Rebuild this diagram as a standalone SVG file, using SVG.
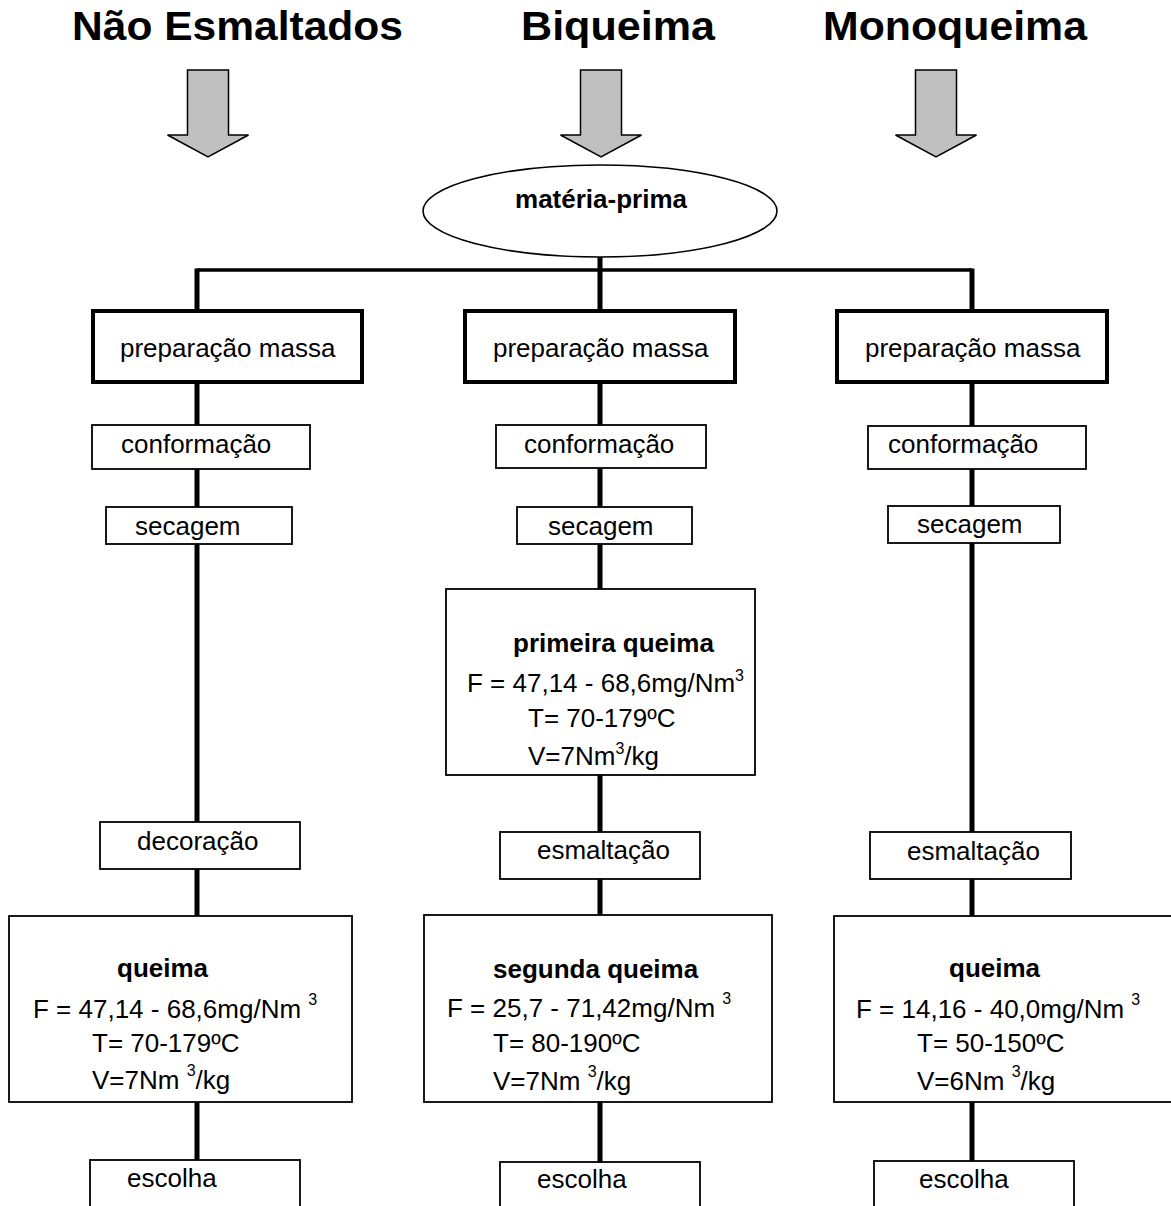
<svg xmlns="http://www.w3.org/2000/svg" width="1171" height="1206" viewBox="0 0 1171 1206">
<style>
.t{font-family:"Liberation Sans",Arial,sans-serif;font-size:26px;fill:#000}
.b{font-weight:bold}
.h{font-family:"Liberation Sans",Arial,sans-serif;font-size:40px;font-weight:bold;fill:#000}
.sup{font-size:16px}
.thick{fill:#fff;stroke:#000;stroke-width:4}
.box{fill:#fff;stroke:#000;stroke-width:1.8}
.arrow{fill:#c0c0c0;stroke:#000;stroke-width:1.5;stroke-linejoin:miter}
.conn{stroke:#000;stroke-width:5;fill:none}
</style>
<defs>
<path id="bigArrow" d="M-20.5,0 H20.5 V65 H40.5 L0,87 L-40.5,65 H-20.5 Z"/>
</defs>

<g id="titles">
<text class="h" x="72" y="40" textLength="331" lengthAdjust="spacingAndGlyphs">Não Esmaltados</text>
<text class="h" x="521" y="40" textLength="194" lengthAdjust="spacingAndGlyphs">Biqueima</text>
<text class="h" x="823" y="40" textLength="264" lengthAdjust="spacingAndGlyphs">Monoqueima</text>
</g>

<g id="arrows">
<use href="#bigArrow" class="arrow" x="208" y="70"/>
<use href="#bigArrow" class="arrow" x="601" y="70"/>
<use href="#bigArrow" class="arrow" x="936" y="70"/>
</g>

<g id="connectors">
<line class="conn" x1="600" y1="257" x2="600" y2="311"/>
<line x1="197" y1="270" x2="972" y2="270" stroke="#000" stroke-width="3.5"/>
<line class="conn" x1="197" y1="268.5" x2="197" y2="311"/>
<line class="conn" x1="972" y1="268.5" x2="972" y2="311"/>
<line class="conn" x1="197" y1="382" x2="197" y2="1161"/>
<line class="conn" x1="600" y1="382" x2="600" y2="1162"/>
<line class="conn" x1="972" y1="382" x2="972" y2="1161"/>
</g>

<g id="materia-prima">
<ellipse cx="600" cy="211" rx="177" ry="46" fill="#fff" stroke="#000" stroke-width="1.6"/>
<text class="t b" x="601" y="208" text-anchor="middle" font-size="28.5">matéria-prima</text>
</g>

<g id="prep-left"><rect class="thick" x="93" y="311" width="269" height="71"/><text class="t" x="120" y="357">preparação massa</text></g>
<g id="prep-mid"><rect class="thick" x="465" y="311" width="270" height="71"/><text class="t" x="493" y="357">preparação massa</text></g>
<g id="prep-right"><rect class="thick" x="837" y="311" width="270" height="71"/><text class="t" x="865" y="357">preparação massa</text></g>

<g id="conf-left"><rect class="box" x="92" y="425" width="218" height="44"/><text class="t" x="121" y="453">conformação</text></g>
<g id="conf-mid"><rect class="box" x="496" y="425" width="210" height="43"/><text class="t" x="524" y="453">conformação</text></g>
<g id="conf-right"><rect class="box" x="868" y="426" width="218" height="43"/><text class="t" x="888" y="453">conformação</text></g>

<g id="sec-left"><rect class="box" x="106" y="507" width="186" height="37"/><text class="t" x="135" y="535">secagem</text></g>
<g id="sec-mid"><rect class="box" x="517" y="507" width="175" height="37"/><text class="t" x="548" y="535">secagem</text></g>
<g id="sec-right"><rect class="box" x="888" y="506" width="172" height="37"/><text class="t" x="917" y="533">secagem</text></g>

<g id="primeira-queima">
<rect class="box" x="446" y="589" width="309" height="186"/>
<text class="t b" x="513" y="652">primeira queima</text>
<text class="t" x="467" y="692">F = 47,14 - 68,6mg/Nm<tspan class="sup" dy="-11">3</tspan></text>
<text class="t" x="528" y="727">T= 70-179ºC</text>
<text class="t" x="528" y="765">V=7Nm<tspan class="sup" dy="-11">3</tspan><tspan dy="11">/kg</tspan></text>
</g>

<g id="decoracao"><rect class="box" x="100" y="822" width="200" height="47"/><text class="t" x="137" y="850">decoração</text></g>
<g id="esm-mid"><rect class="box" x="500" y="832" width="200" height="47"/><text class="t" x="537" y="859">esmaltação</text></g>
<g id="esm-right"><rect class="box" x="870" y="832" width="201" height="47"/><text class="t" x="907" y="860">esmaltação</text></g>

<g id="queima-left">
<rect class="box" x="9" y="916" width="343" height="186"/>
<text class="t b" x="117" y="977">queima</text>
<text class="t" x="33" y="1018">F = 47,14 - 68,6mg/Nm <tspan class="sup" dy="-13">3</tspan></text>
<text class="t" x="92" y="1052">T= 70-179ºC</text>
<text class="t" x="92" y="1089">V=7Nm <tspan class="sup" dy="-13">3</tspan><tspan dy="13">/kg</tspan></text>
</g>

<g id="segunda-queima">
<rect class="box" x="424" y="915" width="348" height="187"/>
<text class="t b" x="493" y="978">segunda queima</text>
<text class="t" x="447" y="1017">F = 25,7 - 71,42mg/Nm <tspan class="sup" dy="-13">3</tspan></text>
<text class="t" x="493" y="1052">T= 80-190ºC</text>
<text class="t" x="493" y="1090">V=7Nm <tspan class="sup" dy="-13">3</tspan><tspan dy="13">/kg</tspan></text>
</g>

<g id="queima-right">
<rect class="box" x="834" y="916" width="340" height="186"/>
<text class="t b" x="949" y="977">queima</text>
<text class="t" x="856" y="1018">F = 14,16 - 40,0mg/Nm <tspan class="sup" dy="-13">3</tspan></text>
<text class="t" x="917" y="1052">T= 50-150ºC</text>
<text class="t" x="917" y="1090">V=6Nm <tspan class="sup" dy="-13">3</tspan><tspan dy="13">/kg</tspan></text>
</g>

<g id="escolha-left"><rect class="box" x="90" y="1160" width="210" height="60"/><text class="t" x="127" y="1187">escolha</text></g>
<g id="escolha-mid"><rect class="box" x="500" y="1162" width="200" height="60"/><text class="t" x="537" y="1188">escolha</text></g>
<g id="escolha-right"><rect class="box" x="874" y="1161" width="200" height="60"/><text class="t" x="919" y="1188">escolha</text></g>
</svg>
